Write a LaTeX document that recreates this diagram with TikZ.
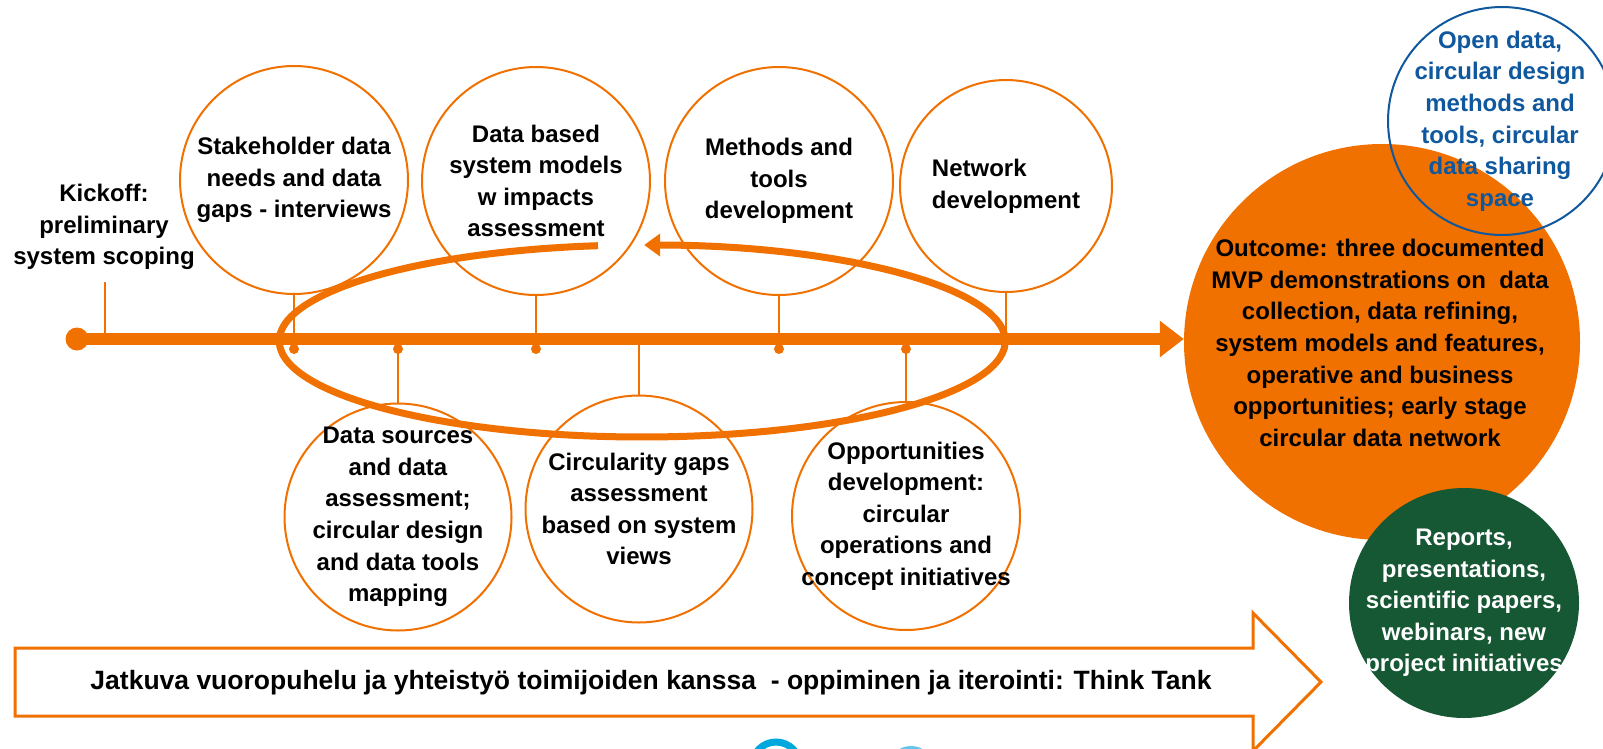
\documentclass[tikz,border=0pt]{standalone}
\usepackage{fontspec}
\setmainfont{Liberation Sans}
\usepackage{tikz}
\usetikzlibrary{positioning}
\usetikzlibrary{arrows.meta}
\definecolor{timelineOrange}{RGB}{240,112,0}
\definecolor{reportGreen}{RGB}{22,87,52}
\definecolor{openBlue}{RGB}{16,88,158}
\definecolor{iconCyan}{RGB}{0,168,222}
\definecolor{iconSky}{RGB}{100,196,240}
\tikzstyle{timeline} = [x = 1pt, y = -1pt]
\tikzstyle{mainLine} = [color=timelineOrange, line width=12pt]
\tikzstyle{stemLine} = [color=timelineOrange, line width=2pt]
\tikzstyle{loopLine} = [color=timelineOrange, line width=7pt]
\tikzstyle{dotStyle} = [fill=timelineOrange]
\tikzstyle{bubbleStyle} = [circle, draw=timelineOrange, fill=white, line width=2pt, inner sep=0pt]
\tikzstyle{bubbleText} = [font=\bfseries\fontsize{24}{31.6}\selectfont, inner sep=0pt]
\tikzstyle{thinkTankArrow} = [draw=timelineOrange, fill=white, line width=3pt, line join=miter]
\newcommand{\upperBubble}[6]{
  \node [bubbleStyle, minimum size=#4pt] (#1) at (#2,#3) {};
  \node [bubbleText, align=#5] (#1Text) at (#1.center) {#6};
  \coordinate (#1Foot) at (#1.south |- mainStart);
  \draw [stemLine] (#1.south) -- (#1Foot);
}
\newcommand{\lowerBubble}[6]{
  \node [bubbleStyle, minimum size=#4pt] (#1) at (#2,#3) {};
  \node [bubbleText, align=#5] (#1Text) at (#1.center) {#6};
  \coordinate (#1Foot) at (#1.north |- mainStart);
  \draw [stemLine] (#1.north) -- (#1Foot);
}
\newcommand{\footDots}[1]{
  \foreach \foot in {#1} {
    \fill [dotStyle] ([yshift=-10pt]\foot Foot) circle [radius=5];
  }
}

\begin{document}
\begin{tikzpicture}[timeline]
  \useasboundingbox (0,0) rectangle (1603,749);
  \coordinate (mainStart) at (77,339);

  % kickoff
  \node [bubbleText, align=center] (kickoff) at (104,227) {Kickoff:\\preliminary\\system scoping};
  \coordinate (kickoffTick) at (105,282);
  \draw [stemLine] (kickoffTick) -- (kickoffTick |- mainStart);

  \upperBubble{stakeholder}{294}{180}{228}{center}{Stakeholder data\\needs and data\\gaps - interviews}
  \upperBubble{dataModels}{536}{181}{228}{center}{Data based\\system models\\w impacts\\assessment}
  \upperBubble{methods}{779}{181}{228}{center}{Methods and\\tools\\development}
  \upperBubble{network}{1006}{186}{212}{left}{Network\\development}
  \lowerBubble{dataSources}{398}{517}{227}{center}{Data sources\\and data\\assessment;\\circular design\\and data tools\\mapping}
  \lowerBubble{gaps}{639}{509}{227}{center}{Circularity gaps\\assessment\\based on system\\views}
  \lowerBubble{opportunities}{906}{516}{228}{center}{Opportunities\\development:\\circular\\operations and\\concept initiatives}

  % outcome side
  \node [circle, fill=timelineOrange, minimum size=396pt, inner sep=0pt] (outcome) at (1382,342) {};
  \node [bubbleText, align=center] (outcomeText) at (1380,343) {Outcome: three documented\\MVP demonstrations on \ data\\collection, data refining,\\system models and features,\\operative and business\\opportunities; early stage\\circular data network};
  \node [circle, draw=openBlue, line width=2pt, minimum size=228pt, inner sep=0pt] (openData) at (1502,121) {};
  \node [bubbleText, align=center, text=openBlue] (openDataText) at (1500,121) {Open data,\\circular design\\methods and\\tools, circular\\data sharing\\space};
  \node [circle, fill=reportGreen, minimum size=230pt, inner sep=0pt] (reports) at (1464,603) {};
  \node [bubbleText, align=center, text=white] (reportsText) at (1464,603) {Reports,\\presentations,\\scientific papers,\\webinars, new\\project initiatives};

  % main timeline
  \draw [mainLine, -{Triangle[length=24pt, width=35pt]}] (mainStart) -- (mainStart -| outcome.west);
  \fill [dotStyle] (mainStart) circle [radius=11.5];
  \footDots{stakeholder, dataModels, methods, dataSources, opportunities}

  % iteration loop
  \coordinate (loopCenter) at (642,341);
  \coordinate (loopStart) at (598,245.7);
  \draw [loopLine, -{Triangle[length=16pt, width=22pt]}] (loopStart) arc [start angle=263, end angle=-89.7, x radius=363, y radius=96];

  % think tank arrow
  \draw [thinkTankArrow] (15,648) -- (1253,648) -- (1253,613) -- (1321,682) -- (1253,751) -- (1253,716) -- (15,716) -- cycle;
  \node [bubbleText, font=\bfseries\fontsize{26.5}{32}\selectfont] (thinkTank) at (651,683) {Jatkuva vuoropuhelu ja yhteistyö toimijoiden kanssa \ - oppiminen ja iterointi: Think Tank};

  % logos at the lower edge
  \draw [iconCyan, line width=7pt] (776,766) circle [radius=24];
  \fill [iconSky] (911,770) circle [radius=24];
\end{tikzpicture}
\end{document}
